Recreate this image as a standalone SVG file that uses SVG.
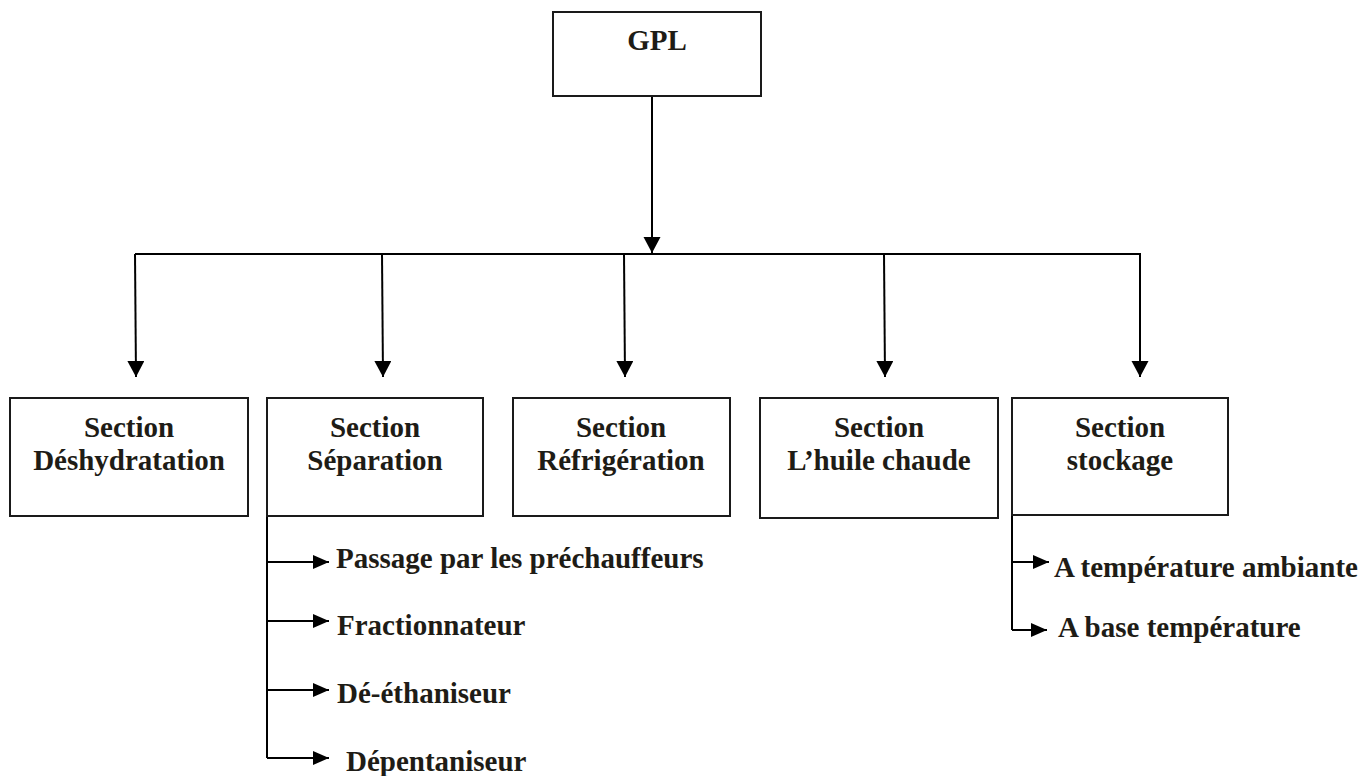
<svg xmlns="http://www.w3.org/2000/svg" width="1372" height="776" viewBox="0 0 1372 776">
<defs>
<marker id="arrBig" markerUnits="userSpaceOnUse" markerWidth="18" markerHeight="18" refX="16" refY="8.5" orient="auto">
<path d="M0,0 L16,8.5 L0,17 z" fill="#000"/>
</marker>
<marker id="arrSmall" markerUnits="userSpaceOnUse" markerWidth="17" markerHeight="15" refX="16" refY="7" orient="auto">
<path d="M0,0 L16,7 L0,14 z" fill="#000"/>
</marker>
</defs>
<style>
.box{fill:#fff;stroke:#1a1a1a;stroke-width:2}
.t{font-family:"Liberation Serif","Times New Roman",serif;font-weight:bold;font-size:29px;fill:#1e1c16}
.c{text-anchor:middle}
.ln{fill:none;stroke:#000;stroke-width:2}
</style>
<rect width="1372" height="776" fill="#fff"/>
<g id="connectors">
<line class="ln" x1="652" y1="96" x2="652" y2="253" marker-end="url(#arrBig)"/>
<line class="ln" x1="135" y1="254" x2="1141" y2="254"/>
<line class="ln" x1="135" y1="254" x2="136" y2="377" marker-end="url(#arrBig)"/>
<line class="ln" x1="382" y1="254" x2="383" y2="377" marker-end="url(#arrBig)"/>
<line class="ln" x1="624" y1="254" x2="625" y2="377" marker-end="url(#arrBig)"/>
<line class="ln" x1="884" y1="254" x2="885" y2="377" marker-end="url(#arrBig)"/>
<line class="ln" x1="1140" y1="254" x2="1140" y2="377" marker-end="url(#arrBig)"/>
<polyline class="ln" points="267,516 267,758"/>
<line class="ln" x1="267" y1="562" x2="329" y2="562" marker-end="url(#arrSmall)"/>
<line class="ln" x1="267" y1="621" x2="329" y2="621" marker-end="url(#arrSmall)"/>
<line class="ln" x1="267" y1="690" x2="329" y2="690" marker-end="url(#arrSmall)"/>
<polyline class="ln" points="267,758 329,758" marker-end="url(#arrSmall)"/>
<polyline class="ln" points="1012,515 1012,630"/>
<line class="ln" x1="1012" y1="562" x2="1049" y2="562" marker-end="url(#arrSmall)"/>
<polyline class="ln" points="1012,630 1047,630" marker-end="url(#arrSmall)"/>
</g>
<g id="gpl">
<rect class="box" x="553" y="12" width="208" height="84"/>
<text class="t c" x="657" y="50">GPL</text>
</g>
<g id="deshydratation">
<rect class="box" x="10" y="398" width="238" height="118"/>
<text class="t c" x="129" y="437">Section</text>
<text class="t c" x="129" y="470">Déshydratation</text>
</g>
<g id="separation">
<rect class="box" x="267" y="398" width="216" height="118"/>
<text class="t c" x="375" y="437">Section</text>
<text class="t c" x="375" y="470">Séparation</text>
</g>
<g id="refrigeration">
<rect class="box" x="513" y="398" width="217" height="118"/>
<text class="t c" x="621" y="437">Section</text>
<text class="t c" x="621" y="470">Réfrigération</text>
</g>
<g id="huile">
<rect class="box" x="760" y="398" width="238" height="120"/>
<text class="t c" x="879" y="437">Section</text>
<text class="t c" x="879" y="470">L’huile chaude</text>
</g>
<g id="stockage">
<rect class="box" x="1012" y="398" width="216" height="117"/>
<text class="t c" x="1120" y="437">Section</text>
<text class="t c" x="1120" y="470">stockage</text>
</g>
<g id="sep-items">
<text class="t" x="336" y="568">Passage par les préchauffeurs</text>
<text class="t" x="337" y="635">Fractionnateur</text>
<text class="t" x="337" y="703">Dé-éthaniseur</text>
<text class="t" x="346" y="771">Dépentaniseur</text>
</g>
<g id="stock-items">
<text class="t" x="1054" y="577">A température ambiante</text>
<text class="t" x="1058" y="637">A base température</text>
</g>
</svg>
